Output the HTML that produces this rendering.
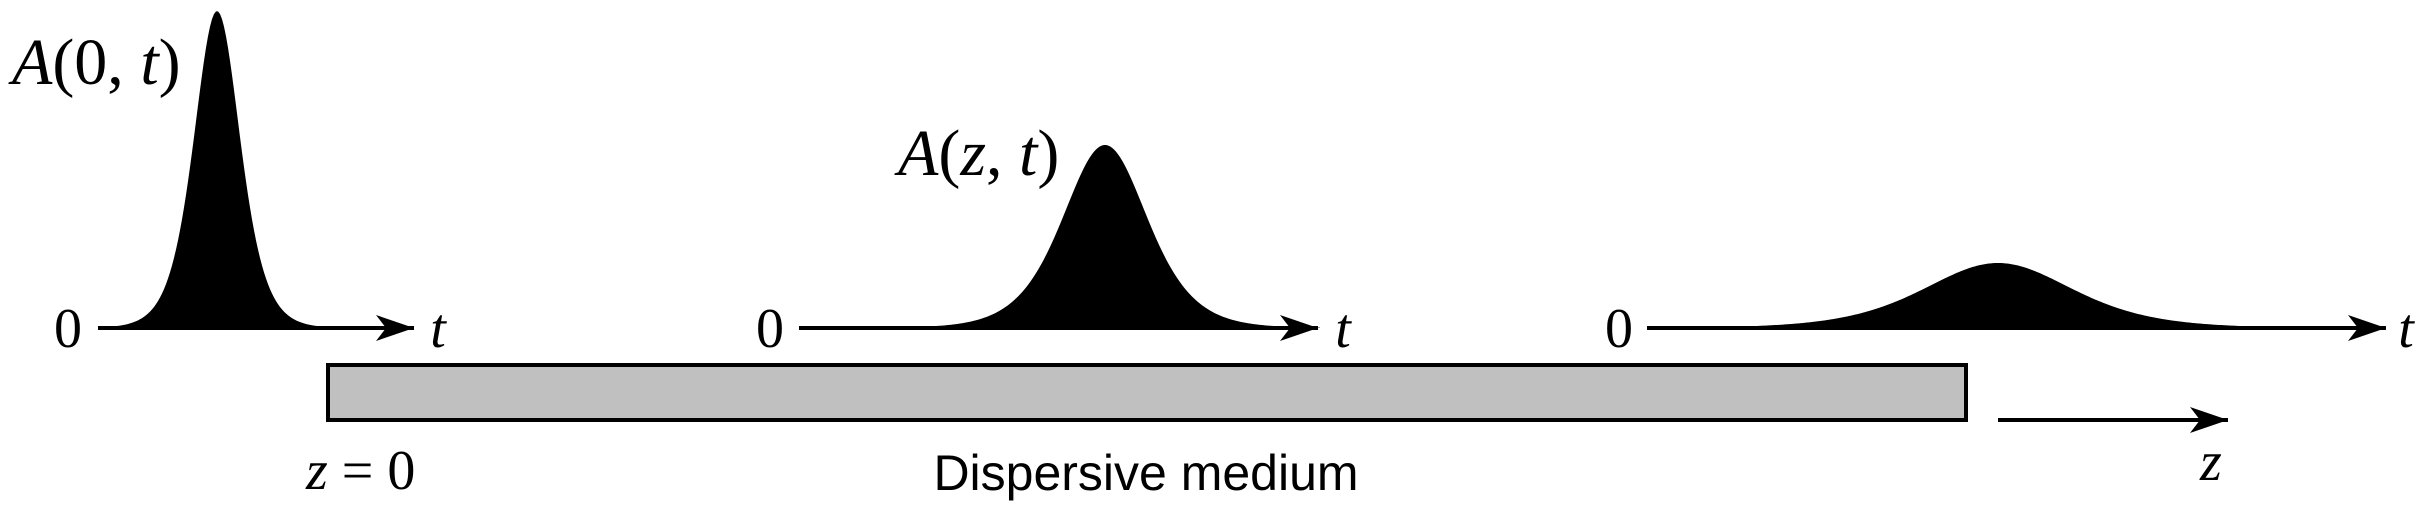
<!DOCTYPE html>
<html><head><meta charset="utf-8"><style>
html,body{margin:0;padding:0;background:#fff;}
svg{display:block;}
.m{font-family:"Liberation Serif",serif;font-style:italic;}
.r{font-family:"Liberation Serif",serif;}
</style></head><body>
<svg id="s" width="2429" height="509" viewBox="0 0 2429 509" xmlns="http://www.w3.org/2000/svg">
<defs>
<marker id="ar" markerWidth="40" markerHeight="30" refX="38" refY="15" orient="auto" markerUnits="userSpaceOnUse">
<path d="M0,2 L38,15 L0,28 L10,15 Z" fill="#000"/>
</marker>
</defs>
<path id="p1" fill="#000"/>
<path id="p2" fill="#000"/>
<path id="p3" fill="#000"/>
<line x1="98" y1="328" x2="414" y2="328" stroke="#000" stroke-width="4" marker-end="url(#ar)"/>
<line x1="799" y1="328" x2="1318" y2="328" stroke="#000" stroke-width="4" marker-end="url(#ar)"/>
<line x1="1647" y1="328" x2="2386" y2="328" stroke="#000" stroke-width="4" marker-end="url(#ar)"/>
<rect x="328" y="365" width="1638" height="55" fill="#c0c0c0" stroke="#000" stroke-width="4"/>
<line x1="1998" y1="420" x2="2228" y2="420" stroke="#000" stroke-width="4" marker-end="url(#ar)"/>
<text class="r" x="68" y="347" font-size="56" text-anchor="middle">0</text>
<text class="r" x="770" y="347" font-size="56" text-anchor="middle">0</text>
<text class="r" x="1619" y="347" font-size="56" text-anchor="middle">0</text>
<text class="m" x="438" y="347" font-size="56" text-anchor="middle">t</text>
<text class="m" x="1343" y="347" font-size="56" text-anchor="middle">t</text>
<text class="m" x="2406" y="347" font-size="56" text-anchor="middle">t</text>
<text x="12" y="84" font-size="66"><tspan class="m">A</tspan><tspan class="r">(0, </tspan><tspan class="m">t</tspan><tspan class="r">)</tspan></text>
<text x="898" y="175" font-size="66"><tspan class="m">A</tspan><tspan class="r">(</tspan><tspan class="m">z</tspan><tspan class="r">, </tspan><tspan class="m">t</tspan><tspan class="r">)</tspan></text>
<text x="306" y="489" font-size="56"><tspan class="m">z</tspan><tspan class="r"> = 0</tspan></text>
<text class="m" x="2200" y="480" font-size="56">z</text>
<text x="1146" y="490" font-size="50" text-anchor="middle" font-family="Liberation Sans, sans-serif">Dispersive medium</text>
</svg>
<script>
function pulse(id,cx,h,T,x0,x1){
  var d="M"+x0+",328";
  for(var x=x0;x<=x1;x+=2){
    var c=Math.cosh((x-cx)/T);
    var y=328-h/(c*c);
    d+=" L"+x+","+y.toFixed(2);
  }
  d+=" L"+x1+",328 Z";
  document.getElementById(id).setAttribute("d",d);
}
pulse("p1",217,317,31,98,360);
pulse("p2",1105,183,57,850,1320);
pulse("p3",1998,65,100,1647,2370);
</script>
</body></html>
